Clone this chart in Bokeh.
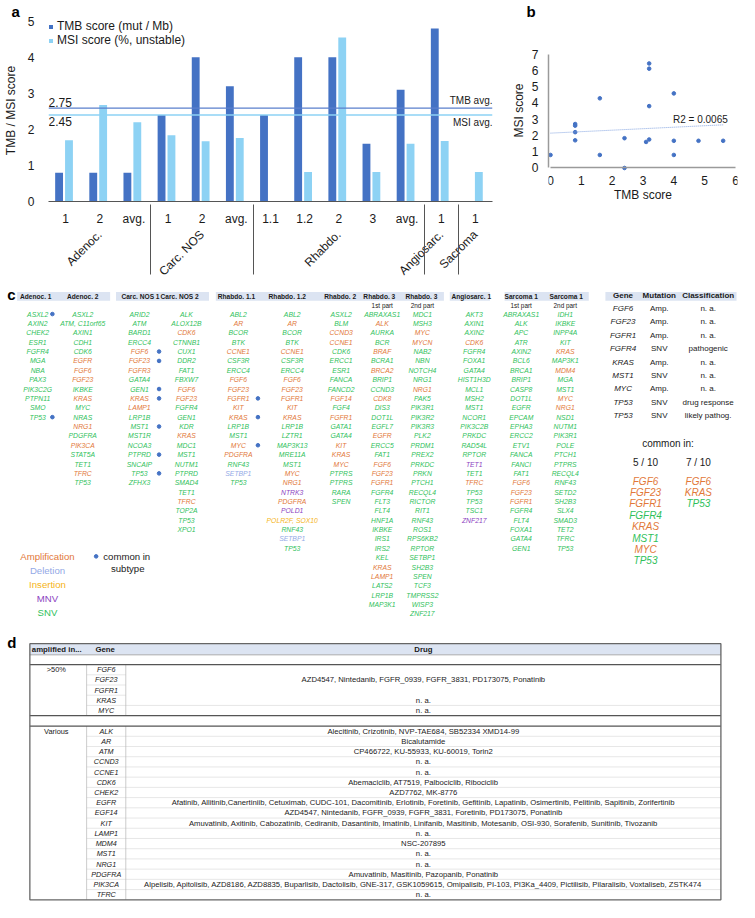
import math
from bokeh.plotting import figure
from bokeh.models import (ColumnDataSource, FactorRange, FixedTicker, Span, Label,
                          Legend, LegendItem, Range1d, Title)
from bokeh.transform import dodge
from bokeh.layouts import column, row
from bokeh.embed import file_html
from bokeh.resources import INLINE
from bokeh.core.properties import value

FONT = "Liberation Sans"

# ---------------- panel a data ----------------
groups = ["Adenoc.", "Adenoc.", "Adenoc.", "Carc. NOS", "Carc. NOS", "Carc. NOS",
          "Rhabdo.", "Rhabdo.", "Rhabdo.", "Rhabdo.", "Rhabdo.", "Angiosarc.", "Sacroma"]
samples = ["1", "2", "avg.", "1", "2", "avg.", "1.1", "1.2", "2", "3", "avg.", "1", "1"]
tmb = [0.8, 0.8, 0.8, 2.4, 4.0, 3.2, 2.4, 4.0, 4.0, 1.6, 3.1, 4.8, 0.0]
msi = [1.7, 2.68, 2.2, 1.84, 1.67, 1.76, 0.0, 0.82, 4.55, 0.82, 1.6, 1.68, 0.82]
tmb_avg_line = 2.59
msi_avg_line = 2.4
tmb_avg_label = "2.75"
msi_avg_label = "2.45"
a_ticks = [0, 1, 2, 3, 4, 5]

# ---------------- panel b data ----------------
sc_tmb = [0.0, 0.8, 0.8, 0.8, 0.8, 1.6, 1.6, 2.4, 2.4, 3.1, 3.2, 3.2, 3.2, 3.2, 4.0, 4.0, 4.0, 4.8, 5.6]
sc_msi = [0.8, 2.7, 2.6, 2.2, 1.7, 4.28, 0.8, 1.83, 0.0, 1.6, 1.75, 6.42, 6.1, 3.8, 4.58, 1.67, 0.8, 1.67, 1.67]
trend_x = [0.0, 5.6]
trend_y = [2.14, 2.65]
r2_text = "R2 = 0.0065"
b_xticks = [0, 1, 2, 3, 4, 5, 6]
b_yticks = [0, 1, 2, 3, 4, 5, 6, 7]

# ---------------- panel c data ----------------
c_headers = ["Adenoc. 1", "Adenoc. 2", "Carc. NOS 1", "Carc. NOS 2", "Rhabdo. 1.1", "Rhabdo. 1.2",
             "Rhabdo. 2", "Rhabdo. 3", "Rhabdo. 3", "Angiosarc. 1", "Sarcoma 1", "Sarcoma 1"]
c_subheaders = ["", "", "", "", "", "", "", "1st part", "2nd part", "", "1st part", "2nd part"]

c_adenoc_1 = [("ASXL2", "S"), ("AXIN2", "S"), ("CHEK2", "S"), ("ESR1", "S"), ("FGFR4", "S"), ("MGA", "S"),
              ("NBA", "S"), ("PAX3", "S"), ("PIK3C2G", "S"), ("PTPN11", "S"), ("SMO", "S"), ("TP53", "S")]
c_adenoc_2 = [("ASXL2", "S"), ("ATM, C11orf65", "S"), ("AXIN1", "S"), ("CDH1", "S"), ("CDK6", "S"), ("EGFR", "A"),
              ("FGF6", "A"), ("FGF23", "A"), ("IKBKE", "S"), ("KRAS", "A"), ("MYC", "S"), ("NRAS", "S"),
              ("NRG1", "A"), ("PDGFRA", "S"), ("PIK3CA", "A"), ("STAT5A", "S"), ("TET1", "S"), ("TFRC", "A"),
              ("TP53", "S")]
c_carc_1 = [("ARID2", "S"), ("ATM", "S"), ("BARD1", "S"), ("ERCC4", "S"), ("FGF6", "A"), ("FGF23", "A"),
            ("FGFR3", "A"), ("GATA4", "S"), ("GEN1", "S"), ("KRAS", "A"), ("LAMP1", "A"), ("LRP1B", "S"),
            ("MST1", "S"), ("MST1R", "S"), ("NCOA3", "S"), ("PTPRD", "S"), ("SNCAIP", "S"), ("TP53", "S"),
            ("ZFHX3", "S")]
c_carc_2 = [("ALK", "S"), ("ALOX12B", "S"), ("CDK6", "A"), ("CTNNB1", "S"), ("CUX1", "S"), ("DDR2", "S"),
            ("FAT1", "S"), ("FBXW7", "S"), ("FGF6", "A"), ("FGF23", "A"), ("FGFR4", "S"), ("GEN1", "S"),
            ("KDR", "S"), ("KRAS", "A"), ("MDC1", "S"), ("MST1", "S"), ("NUTM1", "S"), ("PTPRD", "S"),
            ("SMAD4", "S"), ("TET1", "S"), ("TFRC", "A"), ("TOP2A", "S"), ("TP53", "S"), ("XPO1", "S")]
c_rhabdo_11 = [("ABL2", "S"), ("AR", "A"), ("BCOR", "S"), ("BTK", "S"), ("CCNE1", "A"), ("CSF3R", "S"),
               ("ERCC4", "S"), ("FGF6", "A"), ("FGF23", "A"), ("FGFR1", "A"), ("KIT", "A"), ("KRAS", "A"),
               ("LRP1B", "S"), ("MST1", "S"), ("MYC", "A"), ("PDGFRA", "A"), ("RNF43", "S"), ("SETBP1", "D"),
               ("TP53", "S")]
c_rhabdo_12 = [("ABL2", "S"), ("AR", "A"), ("BCOR", "S"), ("BTK", "S"), ("CCNE1", "A"), ("CSF3R", "S"),
               ("ERCC4", "S"), ("FGF6", "A"), ("FGF23", "A"), ("FGFR1", "A"), ("KIT", "A"), ("KRAS", "A"),
               ("LRP1B", "S"), ("LZTR1", "S"), ("MAP3K13", "S"), ("MRE11A", "S"), ("MST1", "S"), ("MYC", "A"),
               ("NRG1", "A"), ("NTRK3", "M"), ("PDGFRA", "A"), ("POLD1", "M"), ("POLR2F, SOX10", "I"),
               ("RNF43", "S"), ("SETBP1", "D"), ("TP53", "S")]
c_rhabdo_2 = [("ASXL2", "S"), ("BLM", "S"), ("CCND3", "A"), ("CCNE1", "A"), ("CDK6", "S"), ("ERCC1", "S"),
              ("ESR1", "S"), ("FANCA", "S"), ("FANCD2", "S"), ("FGF14", "A"), ("FGF4", "S"), ("FGFR1", "A"),
              ("GATA1", "S"), ("GATA4", "S"), ("KIT", "A"), ("KRAS", "A"), ("MYC", "A"), ("PTPRS", "S"),
              ("PTPRS", "S"), ("RARA", "S"), ("SPEN", "S")]
c_rhabdo_3a = [("ABRAXAS1", "S"), ("ALK", "A"), ("AURKA", "S"), ("BCR", "S"), ("BRAF", "A"), ("BCRA1", "S"),
               ("BRCA2", "A"), ("BRIP1", "S"), ("CCND3", "S"), ("CDK8", "A"), ("DIS3", "S"), ("DOT1L", "S"),
               ("EGFL7", "S"), ("EGFR", "A"), ("ERCC5", "S"), ("FAT1", "S"), ("FGF6", "A"), ("FGF23", "A"),
               ("FGFR1", "A"), ("FGFR4", "S"), ("FLT3", "S"), ("FLT4", "S"), ("HNF1A", "S"), ("IKBKE", "S"),
               ("IRS1", "S"), ("IRS2", "S"), ("KEL", "S"), ("KRAS", "A"), ("LAMP1", "A"), ("LATS2", "S"),
               ("LRP1B", "S"), ("MAP3K1", "S")]
c_rhabdo_3b = [("MDC1", "S"), ("MSH3", "S"), ("MYC", "A"), ("MYCN", "A"), ("NAB2", "S"), ("NBN", "S"),
               ("NOTCH4", "S"), ("NRG1", "S"), ("NRG1", "A"), ("PAK5", "S"), ("PIK3R1", "S"), ("PIK3R2", "S"),
               ("PIK3R3", "S"), ("PLK2", "S"), ("PRDM1", "S"), ("PREX2", "S"), ("PRKDC", "S"), ("PRKN", "S"),
               ("PTCH1", "S"), ("RECQL4", "S"), ("RICTOR", "S"), ("RIT1", "S"), ("RNF43", "S"), ("ROS1", "S"),
               ("RPS6KB2", "S"), ("RPTOR", "S"), ("SETBP1", "S"), ("SH2B3", "S"), ("SPEN", "S"), ("TCF3", "S"),
               ("TMPRSS2", "S"), ("WISP3", "S"), ("ZNF217", "S")]
c_angio_1 = [("AKT3", "S"), ("AXIN1", "S"), ("AXIN2", "S"), ("CDK6", "A"), ("FGFR4", "S"), ("FOXA1", "S"),
             ("GATA4", "S"), ("HIST1H3D", "S"), ("MCL1", "S"), ("MSH2", "S"), ("MST1", "S"), ("NCOR1", "S"),
             ("PIK3C2B", "S"), ("PRKDC", "S"), ("RAD54L", "S"), ("RPTOR", "S"), ("TET1", "M"), ("TET1", "S"),
             ("TFRC", "A"), ("TP53", "S"), ("TP53", "S"), ("TSC1", "S"), ("ZNF217", "M")]
c_sarc_1a = [("ABRAXAS1", "S"), ("ALK", "S"), ("APC", "S"), ("ATR", "S"), ("AXIN2", "S"), ("BCL6", "S"),
             ("BRCA1", "S"), ("BRIP1", "S"), ("CASP8", "S"), ("DOT1L", "S"), ("EGFR", "S"), ("EPCAM", "S"),
             ("EPHA3", "S"), ("ERCC2", "S"), ("ETV1", "S"), ("FANCA", "S"), ("FANCI", "S"), ("FAT1", "S"),
             ("FGF6", "A"), ("FGF23", "A"), ("FGFR1", "A"), ("FGFR4", "S"), ("FLT4", "S"), ("FOXA1", "S"),
             ("GATA4", "S"), ("GEN1", "S")]
c_sarc_1b = [("IDH1", "S"), ("IKBKE", "S"), ("INPP4A", "S"), ("KIT", "S"), ("KRAS", "A"), ("MAP3K1", "S"),
             ("MDM4", "A"), ("MGA", "S"), ("MST1", "S"), ("MYC", "A"), ("NRG1", "A"), ("NSD1", "S"),
             ("NUTM1", "S"), ("PIK3R1", "S"), ("POLE", "S"), ("PTCH1", "S"), ("PTPRS", "S"), ("RECQL4", "S"),
             ("RNF43", "S"), ("SETD2", "S"), ("SH2B3", "S"), ("SLX4", "S"), ("SMAD3", "S"), ("TET2", "S"),
             ("TFRC", "S"), ("TP53", "S")]
# indices of genes marked "common in subtype"
c_dots = [[0, 11], [], [4, 5, 8, 9, 12, 15, 17], [], [9, 11, 14], [], [], [], [], [], [], []]

ct_genes = ["FGF6", "FGF23", "FGFR1", "FGFR4", "KRAS", "MST1", "MYC", "TP53", "TP53"]
ct_mut = ["Amp.", "Amp.", "Amp.", "SNV", "Amp.", "SNV", "Amp.", "SNV", "SNV"]
ct_class = ["n. a.", "n. a.", "n. a.", "pathogenic", "n. a.", "n. a.", "n. a.", "drug response", "likely pathog."]
common_5 = [("FGF6", "A"), ("FGF23", "A"), ("FGFR1", "A"), ("FGFR4", "S"), ("KRAS", "A"), ("MST1", "S"),
            ("MYC", "A"), ("TP53", "S")]
common_7 = [("FGF6", "A"), ("KRAS", "A"), ("TP53", "S")]
legend_names = ["Amplification", "Deletion", "Insertion", "MNV", "SNV"]
legend_keys = ["A", "D", "I", "M", "S"]

# ---------------- panel d data ----------------
d_gt50_genes = ["FGF6", "FGF23", "FGFR1", "KRAS", "MYC"]
d_gt50_drugs = ["", "AZD4547, Nintedanib, FGFR_0939, FGFR_3831, PD173075, Ponatinib", "", "n. a.", "n. a."]
d_var_genes = ["ALK", "AR", "ATM", "CCND3", "CCNE1", "CDK6", "CHEK2", "EGFR", "EGF14", "KIT", "LAMP1",
               "MDM4", "MST1", "NRG1", "PDGFRA", "PIK3CA", "TFRC"]
d_var_drugs = [
    "Alecitinib, Crizotinib, NVP-TAE684, SB52334 XMD14-99",
    "Bicalutamide",
    "CP466722, KU-55933, KU-60019, Torin2",
    "n. a.",
    "n. a.",
    "Abemaciclib, AT7519, Palbociclib, Ribociclib",
    "AZD7762, MK-8776",
    "Afatinib, Allitinib,Canertiniib, Cetuximab, CUDC-101, Dacomitinib, Erlotinib, Foretinib, Gefitinib, Lapatinib, Osimertinib, Pelitinib, Sapitinib, Zorifertinib",
    "AZD4547, Nintedanib, FGFR_0939, FGFR_3831, Foretinib, PD173075, Ponatinib",
    "Amuvatinib, Axitinib, Cabozatinib, Cediranib, Dasantinib, Imatinib, Linifanib, Masitinib, Motesanib, OSI-930, Sorafenib, Sunitinib, Tivozanib",
    "n. a.",
    "NSC-207895",
    "n. a.",
    "n. a.",
    "Amuvatinib, Masitinib, Pazopanib, Ponatinib",
    "Alpelisib, Apitolisib, AZD8186, AZD8835, Buparlisib, Dactolisib, GNE-317, GSK1059615, Omipalisib, PI-103, PI3Ka_4409, Pictilisib, Pilaralisib, Voxtaliseb, ZSTK474",
    "n. a.",
]
d_group_names = [">50%", "Various"]

# ---------------- styles ----------------
TMB_C = "#4472C4"
MSI_C = "#8DD2F4"
TYPE_C = {"A": "#E27839", "D": "#93A9E6", "I": "#F5B417", "M": "#8C3FBF", "S": "#2FBF5B"}
HDR_C = "#DCE4F2"
TXT = "#1a1a1a"

# shared vertical geometry of the top row (frames get aligned by the row layout)
B_TOP = 18
FRAME_H = 183
B_BOT = 86
ROW_H = B_TOP + FRAME_H + B_BOT


def panel_title(letter, offset):
    return Title(text=letter, align="left", offset=offset, standoff=0, text_font=FONT,
                 text_font_size="15px", text_font_style="bold", text_color="black")


# ================= panel a =================
factors = list(zip(groups, samples))
srcA = ColumnDataSource(dict(x=factors, tmb=tmb, msi=msi))
a_top = 5.05
pa = figure(width=500, height=ROW_H,
            x_range=FactorRange(factors=factors, group_padding=0, factor_padding=0,
                                subgroup_padding=0, range_padding=0),
            y_range=Range1d(0, a_top), output_backend="svg", toolbar_location=None,
            min_border_left=39, min_border_right=8, min_border_top=B_TOP, min_border_bottom=B_BOT)
pa.title = panel_title("a", -37)
pa.outline_line_color = None
pa.grid.visible = False
r1 = pa.vbar(x=dodge("x", -0.19, range=pa.x_range), top="tmb", width=0.23, source=srcA,
             fill_color=TMB_C, line_color=None)
r2 = pa.vbar(x=dodge("x", 0.10, range=pa.x_range), top="msi", width=0.23, source=srcA,
             fill_color=MSI_C, line_color=None)
pa.add_layout(Span(location=tmb_avg_line, dimension="width", line_color="#5A7FCC", line_width=1.2))
pa.add_layout(Span(location=msi_avg_line, dimension="width", line_color=MSI_C, line_width=1.6))
nf = len(factors)
for txt, yv, base, off in [(tmb_avg_label, tmb_avg_line, "bottom", 1), (msi_avg_label, msi_avg_line, "top", -2)]:
    pa.add_layout(Label(x=0, y=yv, text=txt, text_baseline=base, y_offset=off, text_font=FONT,
                        text_font_size="12px", text_color=TXT))
for txt, yv, base, off in [("TMB avg.", tmb_avg_line, "bottom", 2), ("MSI avg.", msi_avg_line, "top", -2)]:
    pa.add_layout(Label(x=nf, y=yv, text=txt, text_baseline=base, text_align="right", y_offset=off,
                        text_font=FONT, text_font_size="10px", text_color=TXT))
leg = Legend(items=[LegendItem(label="TMB score (mut / Mb)", renderers=[r1]),
                    LegendItem(label="MSI score (%, unstable)", renderers=[r2])],
             location="top_left", glyph_width=5, glyph_height=5, label_standoff=4,
             label_text_font=FONT, label_text_font_size="12px", label_height=13, label_text_color=TXT,
             spacing=0, padding=2, margin=0, border_line_color=None, background_fill_alpha=0)
pa.add_layout(leg)
xa = pa.xaxis[0]
xa.major_label_text_font = FONT
xa.major_label_text_font_size = "12px"
xa.major_label_text_color = TXT
xa.group_text_font = FONT
xa.group_text_font_size = "12px"
xa.group_text_font_style = "normal"
xa.group_text_color = TXT
xa.group_label_orientation = math.pi / 4
xa.separator_line_color = "#555555"
xa.separator_line_width = 1
xa.axis_line_color = "#555555"
xa.major_tick_line_color = None
xa.minor_tick_line_color = None
xa.major_label_standoff = 4
ya = pa.yaxis[0]
ya.ticker = FixedTicker(ticks=a_ticks)
ya.axis_line_color = None
ya.major_tick_line_color = None
ya.minor_tick_line_color = None
ya.major_label_text_font = FONT
ya.major_label_text_font_size = "12px"
ya.major_label_text_color = TXT
ya.major_label_standoff = 8
ya.axis_label = "TMB / MSI score"
ya.axis_label_text_font = FONT
ya.axis_label_text_font_size = "12px"
ya.axis_label_text_font_style = "normal"
ya.axis_label_text_color = TXT
ya.axis_label_standoff = 7

# ================= panel b =================
b_w = 239
b_left, b_right = 48, 2
b_frame_w = b_w - b_left - b_right
b_x0 = 2.0                              # frame px of TMB = 0
b_unit_x = (b_frame_w - 2 * b_x0) / 6.0
b_y0 = B_TOP + FRAME_H - 167.3          # frame px (from bottom) of MSI = 0
b_unit_y = 16.37
b_xs, b_xe = -b_x0 / b_unit_x, (b_frame_w - b_x0) / b_unit_x
b_ys, b_ye = -b_y0 / b_unit_y, (FRAME_H - b_y0) / b_unit_y
pb = figure(width=b_w, height=ROW_H, x_range=Range1d(b_xs, b_xe), y_range=Range1d(b_ys, b_ye),
            output_backend="svg", toolbar_location=None,
            min_border_left=b_left, min_border_right=b_right, min_border_top=B_TOP, min_border_bottom=B_BOT)
pb.title = panel_title("b", -22)
pb.outline_line_color = None
pb.grid.visible = False
pb.scatter(sc_tmb, sc_msi, size=3.6, color=TMB_C)
pb.line(trend_x, trend_y, line_dash="1 1", line_color="#86A6E2", line_width=1)
pb.add_layout(Label(x=5.75, y=3.0, text=r2_text, text_align="right", text_baseline="middle",
                    text_font=FONT, text_font_size="10px", text_color=TXT))
for ax, tk in [(pb.xaxis[0], b_xticks), (pb.yaxis[0], b_yticks)]:
    ax.ticker = FixedTicker(ticks=tk)
    ax.bounds = (tk[0], tk[-1])
    ax.axis_line_color = "#9a9a9a"
    ax.axis_line_width = 1.5
    ax.major_tick_line_color = None
    ax.minor_tick_line_color = None
    ax.major_label_text_font = FONT
    ax.major_label_text_font_size = "12px"
    ax.major_label_text_color = TXT
    ax.axis_label_text_font = FONT
    ax.axis_label_text_font_size = "12px"
    ax.axis_label_text_font_style = "normal"
    ax.axis_label_text_color = TXT
pb.xaxis[0].fixed_location = 0
pb.xaxis[0].axis_label = "TMB score"
pb.xaxis[0].major_label_standoff = 2
pb.xaxis[0].axis_label_standoff = 0
pb.yaxis[0].axis_label = "MSI score"
pb.yaxis[0].major_label_standoff = 4
pb.yaxis[0].axis_label_standoff = 3

# ================= panels c & d (pixel-like layout canvas) =================
pc = figure(width=739, height=902 - ROW_H, x_range=Range1d(0, 755), y_range=Range1d(918, 286),
            x_axis_type=None, y_axis_type=None, output_backend="svg", toolbar_location=None,
            min_border=0)
pc.outline_line_color = None
pc.grid.visible = False

def put_text(xs, ys, texts, colors, size, style="normal", align="center", baseline="middle"):
    src = ColumnDataSource(dict(x=xs, y=ys, t=texts, c=colors))
    pc.text(x="x", y="y", text="t", text_color="c", source=src, text_font=value(FONT),
            text_font_size=size, text_font_style=style, text_align=align, text_baseline=baseline)

# panel labels
put_text([7, 7], [293, 651], ["c", "d"], ["black", "black"], "15px", "bold", "left")

# ---- panel c layout
col_x = [38, 84, 142, 190, 243, 298, 348, 390, 431, 484, 532, 577]
dot_dx = [15, 15, 20, 20, 20, 20, 20, 20, 20, 20, 20, 20]
hdr_x = [36, 84, 143, 183, 241, 293, 347, 387, 430, 481, 532, 578]
band_l = [17, 118, 220, 459, 515, 618]
band_r = [112, 213, 453, 500, 601, 752]
band_t, band_b = 290.5, 299.5
row0, row_dy = 313.3, 9.63
gene_columns = [c_adenoc_1, c_adenoc_2, c_carc_1, c_carc_2, c_rhabdo_11, c_rhabdo_12,
                c_rhabdo_2, c_rhabdo_3a, c_rhabdo_3b, c_angio_1, c_sarc_1a, c_sarc_1b]

pc.quad(left=band_l, right=band_r, top=[band_t] * len(band_l), bottom=[band_b] * len(band_l),
        fill_color=HDR_C, line_color=None)
put_text(hdr_x, [295] * len(hdr_x), c_headers, [TXT] * len(hdr_x), "6.6px", "bold")
sub_idx = [i for i, s in enumerate(c_subheaders) if s]
put_text([col_x[i] for i in sub_idx], [305] * len(sub_idx), [c_subheaders[i] for i in sub_idx],
         [TXT] * len(sub_idx), "6.4px")

gx, gy, gt, gc = [], [], [], []
dx, dy = [], []
for ci, genes in enumerate(gene_columns):
    for ri, (g, t) in enumerate(genes):
        gx.append(col_x[ci]); gy.append(row0 + ri * row_dy); gt.append(g); gc.append(TYPE_C[t])
    for ri in c_dots[ci]:
        dx.append(col_x[ci] + dot_dx[ci]); dy.append(row0 + ri * row_dy)
put_text(gx, gy, gt, gc, "6.8px", "italic")
pc.scatter(dx, dy, size=3.6, color=TMB_C)

# right table
put_text([636, 673, 723], [294.5] * 3, ["Gene", "Mutation", "Classification"], [TXT] * 3, "8px", "bold")
t_y = [307.7 + i * 13.72 for i in range(len(ct_genes))]
put_text([636] * len(ct_genes), t_y, ct_genes, [TXT] * len(ct_genes), "8px", "italic")
put_text([673] * len(ct_mut), t_y, ct_mut, [TXT] * len(ct_mut), "8px")
put_text([723] * len(ct_class), t_y, ct_class, [TXT] * len(ct_class), "8px")
put_text([682], [446.7], ["common in:"], [TXT], "10px")
put_text([659, 713], [466, 466], ["5 / 10", "7 / 10"], [TXT, TXT], "10px")
for cx, lst in [(659, common_5), (713, common_7)]:
    put_text([cx] * len(lst), [485 + i * 11.7 for i in range(len(lst))], [g for g, _ in lst],
             [TYPE_C[t] for _, t in lst], "10px", "italic")

# legend of panel c
put_text([48] * len(legend_names), [562.7 + i * 14.3 for i in range(len(legend_names))], legend_names,
         [TYPE_C[k] for k in legend_keys], "9.6px")
pc.scatter([97.7], [562.3], size=3.6, color=TMB_C)
put_text([105], [562.3], ["common in"], [TXT], "9.6px", "normal", "left")
put_text([130], [574.5], ["subtype"], [TXT], "9.6px")

# ---- panel d table
t_l, t_c1, t_c2, t_r = 30, 88, 128, 736
h_t, h_b = 652, 663.5
g1_top = 673.5
rh = 10.5
g1_bot = g1_top + rh * len(d_gt50_genes)
g2_top = g1_bot + 10.7
g2_bot = g2_top + rh * len(d_var_genes)
drug_x = (t_c2 + t_r) / 2
gene_x = 108

pc.quad(left=[t_l], right=[t_r], top=[h_t], bottom=[h_b], fill_color=HDR_C, line_color=None)
put_text([32], [658], ["amplified in..."], [TXT], "7.8px", "bold", "left")
put_text([97], [658], ["Gene"], [TXT], "7.8px", "bold", "left")
put_text([drug_x], [658], ["Drug"], [TXT], "7.8px", "bold")

# light row separators
sx0, sx1, sy = [], [], []
for i in range(len(d_gt50_genes) - 1):
    yb = g1_top + rh * (i + 1)
    merged = d_gt50_drugs[i + 1] == "" or d_gt50_drugs[i] == ""
    sx0.append(t_c1); sx1.append(t_c2 if merged else t_r); sy.append(yb)
for i in range(len(d_var_genes) - 1):
    yb = g2_top + rh * (i + 1)
    sx0.append(t_c1); sx1.append(t_r); sy.append(yb)
pc.segment(x0=sx0, x1=sx1, y0=sy, y1=sy, line_color="#dddddd", line_width=0.7)
# column separators
pc.segment(x0=[t_c1, t_c2, t_c1, t_c2], x1=[t_c1, t_c2, t_c1, t_c2],
           y0=[g1_top, g1_top, g2_top, g2_top], y1=[g1_bot, g1_bot, g2_bot, g2_bot],
           line_color="#b5b5b5", line_width=0.7)
# heavy lines
pc.segment(x0=[t_l] * 3, x1=[t_r] * 3, y0=[g1_top, g1_bot, g2_top], y1=[g1_top, g1_bot, g2_top],
           line_color="#555555", line_width=1.3)
pc.segment(x0=[t_l], x1=[t_r], y0=[h_b], y1=[h_b], line_color="#999999", line_width=0.8)
pc.quad(left=[t_l], right=[t_r], top=[h_t], bottom=[g2_bot], fill_color=None,
        line_color="#666666", line_width=1.3)

g1_y = [g1_top + rh * (i + 0.5) for i in range(len(d_gt50_genes))]
g2_y = [g2_top + rh * (i + 0.5) for i in range(len(d_var_genes))]
put_text([57, 57], [g1_y[0], g2_y[0]], d_group_names, [TXT, TXT], "7.4px")
put_text([gene_x] * len(d_gt50_genes), g1_y, d_gt50_genes, [TXT] * len(g1_y), "7.2px", "italic")
put_text([gene_x] * len(d_var_genes), g2_y, d_var_genes, [TXT] * len(g2_y), "7.2px", "italic")
put_text([drug_x] * len(d_gt50_drugs), g1_y, d_gt50_drugs, [TXT] * len(g1_y), "7.7px")
put_text([drug_x] * len(d_var_drugs), g2_y, d_var_drugs, [TXT] * len(g2_y), "7.7px")

layout = column(row(pa, pb), pc)
open("out.html", "w").write(file_html(layout, INLINE))
